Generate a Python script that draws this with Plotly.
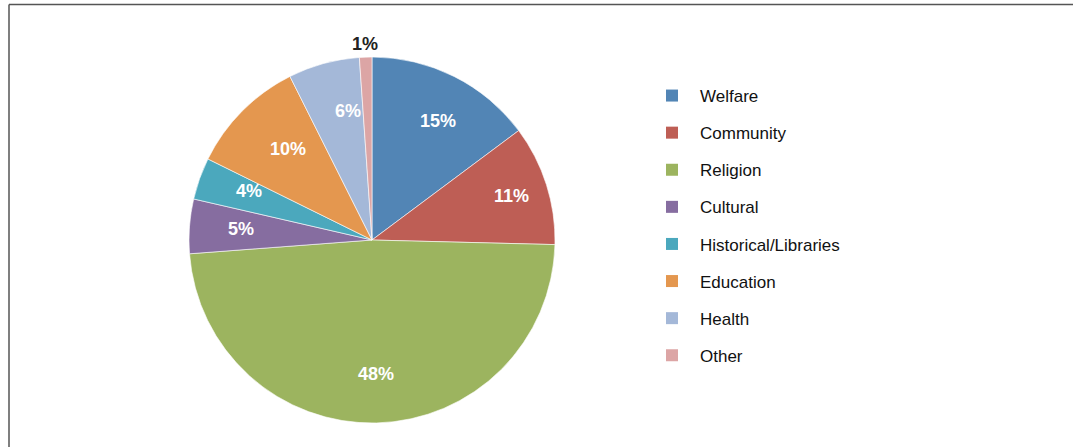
import math
import plotly.graph_objects as go

categories = ["Welfare", "Community", "Religion", "Cultural", "Historical/Libraries",
              "Education", "Health", "Other"]
shares = [14.8, 10.6, 48.4, 4.8, 3.7, 10.3, 6.3, 1.1]
colors = ["#5285B5", "#BE5E55", "#9CB45F", "#866DA0", "#4BA8BD", "#E4974F", "#A4B8D8", "#DCA5A5"]
label_outside = [False] * 7 + [True]

W, H = 1073, 447
cx, cy, R = 372, 240, 183
LABEL_FONT = "Liberation Sans Narrow, Liberation Sans, Arial"

fig = go.Figure()
fig.add_trace(go.Pie(
    labels=categories, values=shares, sort=False, direction="clockwise", rotation=0,
    marker=dict(colors=colors, line=dict(color="white", width=0.6)),
    textinfo="none", showlegend=False, hoverinfo="label+percent",
    domain=dict(x=[(cx - R) / W, (cx + R) / W], y=[(H - cy - R) / H, (H - cy + R) / H]),
))

# percentage labels placed at each slice's mid-angle (computed from the data)
total = sum(shares)
cum = 0.0
annotations = []
for v, out in zip(shares, label_outside):
    mid = (cum + v / 2) / total * 2 * math.pi
    cum += v
    r = R + 25 if out else 0.8 * R
    px = cx + r * math.sin(mid)
    py = cy - r * math.cos(mid)
    annotations.append(dict(
        x=px / W, y=1 - py / H, xref="paper", yref="paper", showarrow=False,
        text=f"<b>{round(v / total * 100)}%</b>",
        font=dict(family=LABEL_FONT, size=18, color="#222222" if out else "white"),
    ))

for i, (name, col) in enumerate(zip(categories, colors)):
    fig.add_trace(go.Scatter(
        x=[None], y=[None], mode="markers", name=name, legendgroup=f"g{i}",
        marker=dict(symbol="square", size=12, color=col),
    ))

fig.update_layout(
    width=W, height=H, margin=dict(l=0, r=0, t=0, b=0),
    paper_bgcolor="white", plot_bgcolor="white",
    xaxis=dict(visible=False), yaxis=dict(visible=False),
    legend=dict(x=644 / W, y=1 - 78 / H, xanchor="left", yanchor="top", itemwidth=46,
                tracegroupgap=12, font=dict(family="Liberation Sans, Arial", size=17, color="#111111"),
                bgcolor="rgba(0,0,0,0)"),
    annotations=annotations,
    shapes=[
        dict(type="line", xref="paper", yref="paper", x0=9 / W, x1=1, y0=1 - 4.5 / H, y1=1 - 4.5 / H,
             line=dict(color="#555555", width=1.5)),
        dict(type="line", xref="paper", yref="paper", x0=9 / W, x1=9 / W, y0=0, y1=1 - 4.5 / H,
             line=dict(color="#555555", width=1.5)),
    ],
)

fig.write_html("out.html", config={"displayModeBar": False},
               post_script="document.body.style.margin='0px';")
